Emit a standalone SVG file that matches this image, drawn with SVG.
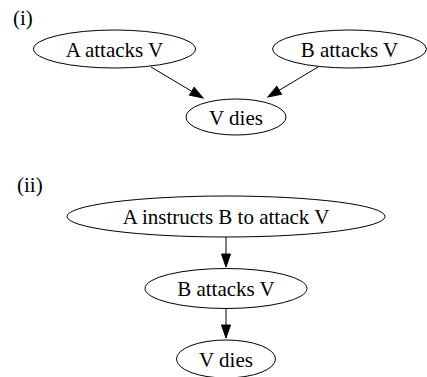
<svg xmlns="http://www.w3.org/2000/svg" width="427" height="377" viewBox="0 0 427 377">
<style>
svg text{font-family:'Liberation Serif',serif !important;font-size:21px}
.n text{text-anchor:middle}
.n ellipse{fill:none;stroke:#000;stroke-width:1}
.e line{stroke:#000;stroke-width:1}
</style>
<defs>
<marker id="ah" markerUnits="userSpaceOnUse" markerWidth="14" markerHeight="10" refX="0" refY="4.5" orient="auto" overflow="visible">
<path d="M0,0 L13,4.5 L0,9 z" fill="#000" stroke="#000" stroke-width="1"/>
</marker>
</defs>
<rect width="427" height="377" fill="#fff"/>
<text x="13" y="25" style="font-family:'Liberation Serif',serif">(i)</text>
<text x="17" y="192" style="font-family:'Liberation Serif',serif">(ii)</text>
<g id="n1" class="n"><ellipse cx="114.5" cy="49" rx="81" ry="19"/><text x="114.5" y="56.5" style="font-family:'Liberation Serif',serif">A attacks V</text></g>
<g id="n2" class="n"><ellipse cx="349.5" cy="49" rx="77" ry="19"/><text x="349.5" y="56.5" style="font-family:'Liberation Serif',serif">B attacks V</text></g>
<g id="n3" class="n"><ellipse cx="236" cy="117" rx="50" ry="18"/><text x="236" y="124.5" style="font-family:'Liberation Serif',serif">V dies</text></g>
<g id="n4" class="n"><ellipse cx="226" cy="216.5" rx="159" ry="20.5"/><text x="226" y="224" style="font-family:'Liberation Serif',serif">A instructs B to attack V</text></g>
<g id="n5" class="n"><ellipse cx="226" cy="288.5" rx="81" ry="20"/><text x="226" y="296" style="font-family:'Liberation Serif',serif">B attacks V</text></g>
<g id="n6" class="n"><ellipse cx="226" cy="359" rx="49.5" ry="19"/><text x="226" y="366.5" style="font-family:'Liberation Serif',serif">V dies</text></g>
<g id="edges" class="e">
<line x1="151" y1="67" x2="191.8" y2="91.3" marker-end="url(#ah)"/>
<line x1="318" y1="67" x2="279.1" y2="90.3" marker-end="url(#ah)"/>
<line x1="226" y1="237" x2="226" y2="254" marker-end="url(#ah)"/>
<line x1="226" y1="308.5" x2="226" y2="325" marker-end="url(#ah)"/>
</g>
</svg>
